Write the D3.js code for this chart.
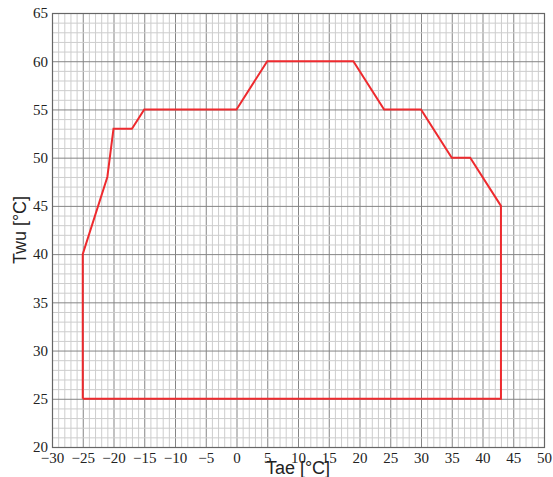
<!DOCTYPE html>
<html><head><meta charset="utf-8">
<script src="https://cdn.jsdelivr.net/npm/d3@7"></script>
<style>body{margin:0;background:#fff}svg{display:block}</style>
</head><body>
<svg id="c" width="553" height="477"></svg>
<script>
const xTicks = [-30,-25,-20,-15,-10,-5,0,5,10,15,20,25,30,35,40,45,50];
const yTicks = [20,25,30,35,40,45,50,55,60,65];
const tae = [-25,-25,-21,-20,-17,-15,0,5,19,24,30,35,38,43,43,-25];
const twu = [25,40,48,53,53,55,55,60,60,55,55,50,50,45,25,25];

const svg = d3.select("#c");
const L=52, R=544, T=13, B=447;
const x = d3.scaleLinear().domain([-30,50]).range([L,R]);
const y = d3.scaleLinear().domain([20,65]).range([B,T]);

const g = svg.append("g");
g.selectAll(".vx").data(d3.range(-30,51,1)).join("line")
  .attr("x1",d=>x(d)+0.5).attr("x2",d=>x(d)+0.5).attr("y1",T).attr("y2",B)
  .attr("stroke",d=>d%5===0?"#858585":"#cdcdcd").attr("stroke-width",1);
g.selectAll(".hy").data(d3.range(20,66,1)).join("line")
  .attr("y1",d=>y(d)+0.5).attr("y2",d=>y(d)+0.5).attr("x1",L).attr("x2",R)
  .attr("stroke",d=>d%5===0?"#858585":"#cdcdcd").attr("stroke-width",1);
g.append("rect").attr("x",L+0.5).attr("y",T+0.5).attr("width",R-L).attr("height",B-T)
  .attr("fill","none").attr("stroke","#666").attr("stroke-width",1.2);

const xa = svg.append("g").attr("transform",`translate(0,${B})`)
  .call(d3.axisBottom(x).tickValues(xTicks).tickSize(0).tickPadding(5).tickFormat(d=>String(d).replace("-","\u2212")));
xa.select(".domain").remove();
const ya = svg.append("g").attr("transform",`translate(${L},0)`)
  .call(d3.axisLeft(y).tickValues(yTicks).tickSize(0).tickPadding(4));
ya.select(".domain").remove();
[xa,ya].forEach(a=>{
  a.attr("font-family","Liberation Serif").attr("font-size",15);
  a.selectAll("text").attr("font-family","Liberation Serif").attr("font-size",15).attr("fill","#222");
});

const line = d3.line().x((d,i)=>x(tae[i])).y((d,i)=>y(twu[i]));
svg.append("path").datum(tae).attr("d",line).attr("fill","none")
  .attr("stroke","#ee2a2e").attr("stroke-width",2).attr("stroke-linejoin","miter");

svg.append("text").attr("x",298).attr("y",474).attr("text-anchor","middle")
  .attr("font-family","Liberation Sans").attr("font-size",18).attr("fill","#222").text("Tae [°C]");
svg.append("text").attr("transform","translate(26,230) rotate(-90)").attr("text-anchor","middle")
  .attr("font-family","Liberation Sans").attr("font-size",18).attr("fill","#222").text("Twu [°C]");
</script>
</body></html>
